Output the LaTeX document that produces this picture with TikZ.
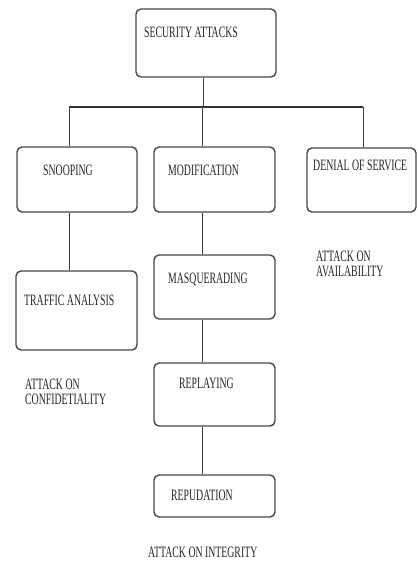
\documentclass[tikz,border=0pt]{standalone}
\usepackage{fontspec}
\setmainfont{Liberation Serif}
\newfontfamily\condfont[FakeStretch=0.62]{Liberation Serif}
\begin{document}
\begin{tikzpicture}[x=1pt,y=-1pt,
  box/.style={draw=black!72,line width=1.4pt,rounded corners=5pt,inner sep=0pt,fill=none},
  lbl/.style={anchor=west,inner sep=0pt,text=black!85,font=\condfont\fontsize{15.8}{15.5}\selectfont,align=left},
  conn/.style={draw=black!75,line width=1pt}]
\useasboundingbox[fill=white] (0,0) rectangle (417,561);
% boxes
\node[box,minimum width=140pt,minimum height=68pt] (sa) at (206,43) {};
\node[box,minimum width=120pt,minimum height=65pt] (sn) at (77,179.5) {};
\node[box,minimum width=121pt,minimum height=65pt] (mo) at (214.5,179.5) {};
\node[box,minimum width=109pt,minimum height=64pt] (ds) at (361.5,180) {};
\node[box,minimum width=121pt,minimum height=79pt] (ta) at (76.5,310.5) {};
\node[box,minimum width=121pt,minimum height=64pt] (ma) at (214.5,287) {};
\node[box,minimum width=121pt,minimum height=63pt] (re) at (214.5,394.5) {};
\node[box,minimum width=121pt,minimum height=42pt] (ru) at (214.5,496) {};
% texts
\node[lbl] (tsa) at (144,32) {SECURITY ATTACKS};
\node[lbl] (tsn) at (43,170) {SNOOPING};
\node[lbl] (tmo) at (168,170) {MODIFICATION};
\node[lbl] (tds) at (313,165) {DENIAL OF SERVICE};
\node[lbl] (tta) at (24,300) {TRAFFIC ANALYSIS};
\node[lbl] (tma) at (168,280) {MASQUERADING};
\node[lbl] (tre) at (179,383) {REPLAYING};
\node[lbl] (tru) at (171,495) {REPUDATION};
\node[lbl] (aav) at (316,264) {ATTACK ON\\AVAILABILITY};
\node[lbl] (aco) at (25,392) {ATTACK ON\\CONFIDETIALITY};
\node[lbl] (ain) at (148,552) {ATTACK ON INTEGRITY};
% connectors
\coordinate (j) at (203,107);
\coordinate (l) at (69,107);
\coordinate (r) at (363,107);
\coordinate (m) at (202,107);
\draw[conn] (sa.south -| j) -- (j);
\draw[draw=black!80,line width=1.8pt] (l) -- (r);
\draw[conn] (l) -- (sn.north -| l);
\draw[conn] (m) -- (mo.north -| m);
\draw[conn] (r) -- (ds.north -| r);
\draw[conn] (sn.south -| l) -- (ta.north -| l);
\draw[conn] (mo.south -| m) -- (ma.north -| m);
\draw[conn] (ma.south -| m) -- (re.north -| m);
\draw[conn] (re.south -| m) -- (ru.north -| m);
\end{tikzpicture}
\end{document}
